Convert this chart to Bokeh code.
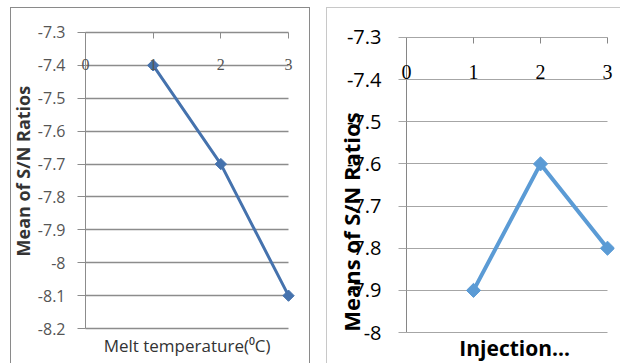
from math import pi
from bokeh.plotting import figure
from bokeh.models import (Range1d, FixedTicker, LinearAxis, LabelSet,
                          ColumnDataSource)
from bokeh.layouts import row
from bokeh.embed import file_html
from bokeh.resources import INLINE

# ---- data ----
levels = [1, 2, 3]
melt_means = [-7.4, -7.7, -8.1]
inj_means = [-7.9, -7.6, -7.8]

x_ticks = [0, 1, 2, 3]
x_tick_labels = ["0", "1", "2", "3"]

left_y_ticks = [-8.2, -8.1, -8.0, -7.9, -7.8, -7.7, -7.6, -7.5, -7.4, -7.3]
left_y_labels = ["-8.2", "-8.1", "-8", "-7.9", "-7.8", "-7.7", "-7.6", "-7.5", "-7.4", "-7.3"]
right_y_ticks = [-8.0, -7.9, -7.8, -7.7, -7.6, -7.5, -7.4, -7.3]
right_y_labels = ["-8", "-7.9", "-7.8", "-7.7", "-7.6", "-7.5", "-7.4", "-7.3"]

left_x_title = "Melt temperature(\u2070C)"
left_y_title = "Mean of S/N Ratios"
right_x_title = "Injection\u2026"
right_y_title = "Means of S/N Ratios"

FONT = "Open Sans"
NBSP = "\u00a0"


def panel(xs, ys, yticks, ylabels, x_title, y_title, cfg):
    styles = {"border-top": "1px solid " + cfg["box"],
              "border-left": "1px solid " + cfg["box"]}
    if cfg["box_right"]:
        styles["border-right"] = "1px solid " + cfg["box"]
    y0, y1 = yticks[0], yticks[-1]
    span = y1 - y0
    p = figure(width=cfg["w"], height=cfg["h"], output_backend="svg",
               toolbar_location=None, x_axis_location="below",
               x_range=Range1d(cfg["xstart"], cfg["xend"]),
               y_range=Range1d(y0 - cfg["pad_b"] * span, y1 + cfg["pad_t"] * span),
               min_border_left=0, min_border_right=cfg["br"],
               min_border_top=cfg["bt"], min_border_bottom=cfg["bb"],
               outline_line_color=None, background_fill_color="white",
               border_fill_color="white", styles=styles, margin=cfg["margin"])
    # value axis standing at x = 0
    ya = p.yaxis[0]
    ya.fixed_location = x_ticks[0]
    ya.ticker = FixedTicker(ticks=yticks)
    ya.bounds = (y0, y1)
    ya.major_label_overrides = dict(zip(yticks, ylabels))
    ya.major_tick_out = 8
    ya.major_tick_in = 0
    ya.minor_tick_line_color = None
    ya.axis_line_color = cfg["axis"]
    ya.major_tick_line_color = cfg["grid"]
    ya.major_label_standoff = cfg["standoff"]
    ya.major_label_text_font = FONT
    ya.major_label_text_font_size = cfg["tick_fs"]
    ya.major_label_text_color = cfg["tick_col"]
    ya.axis_label = NBSP * cfg["pad_lead"] + y_title + NBSP * cfg["pad_trail"]
    ya.axis_label_standoff = cfg["yt_so"]
    ya.axis_label_text_font = FONT
    ya.axis_label_text_font_style = "bold"
    ya.axis_label_text_font_size = cfg["title_fs"]
    ya.axis_label_text_color = cfg["title_col"]
    # bottom axis: title only
    xa = p.xaxis[0]
    xa.ticker = FixedTicker(ticks=[])
    xa.axis_line_color = None
    xa.major_tick_out = 0
    xa.major_tick_in = 0
    xa.minor_tick_line_color = None
    xa.major_label_standoff = 0
    xa.axis_label = NBSP * cfg["xpad"] + x_title
    xa.axis_label_standoff = cfg["xt_so"]
    xa.axis_label_text_font = FONT
    xa.axis_label_text_font_style = cfg["xt_style"]
    xa.axis_label_text_font_size = cfg["xt_fs"]
    xa.axis_label_text_color = cfg["title_col"]
    # grid
    p.xgrid.visible = False
    p.ygrid.ticker = FixedTicker(ticks=yticks)
    p.ygrid.grid_line_color = cfg["grid"]
    p.ygrid.grid_line_width = cfg["grid_w"]
    p.ygrid.cross_bounds = (x_ticks[0], x_ticks[-1])
    # horizontal axis crossing at the top value: tick marks pointing down
    top = LinearAxis(ticker=FixedTicker(ticks=x_ticks), fixed_location=y1,
                     major_tick_in=6, major_tick_out=0, axis_line_color=None,
                     major_tick_line_color=cfg["axis"],
                     minor_tick_line_color=None,
                     major_label_text_color=None)
    p.add_layout(top, "above")
    # its labels, under the axis line
    src = ColumnDataSource(dict(x=x_ticks, y=[y1] * len(x_ticks),
                                text=x_tick_labels))
    p.add_layout(LabelSet(x="x", y="y", text="text", source=src,
                          y_offset=-cfg["xlab_off"], text_align="center",
                          text_baseline="middle", text_font=FONT,
                          text_font_size=cfg["tick_fs"],
                          text_color=cfg["tick_col"]))
    # data
    p.line(xs, ys, line_width=cfg["lw"], color=cfg["color"])
    p.scatter(xs, ys, marker="square", angle=pi / 4, size=cfg["ms"],
              color=cfg["color"])
    return p


# common frame top/bottom for both panels; ranges padded so ticks land right
left_cfg = dict(w=300, h=356, xstart=-74 / 67.67, xend=211 / 67.67, br=15, bt=16, bb=22,
                pad_t=8 / 298, pad_b=12 / 298, margin=(7, 0, 0, 10),
                box="#8a8a8a", box_right=True, axis="#8c8c8c", grid="#8c8c8c",
                grid_w=1.5, standoff=12, tick_fs="16px", tick_col="#555555",
                xlab_off=32, lw=3, color="#4572ad", ms=8,
                yt_so=0, pad_lead=4, pad_trail=0, xt_so=-7, xpad=15,
                title_fs="18px", title_col="#333333", xt_style="normal", xt_fs="17px")
right_cfg = dict(w=294, h=356, xstart=-79 / 67.0, xend=208 / 67.0, br=7, bt=16, bb=22,
                 pad_t=13 / 297, pad_b=8 / 297, margin=(7, 0, 0, 0),
                 box="#c8c8c8", box_right=False, axis="#868686", grid="#a6a6a6",
                 grid_w=1, standoff=17, tick_fs="20px", tick_col="#000000",
                 xlab_off=35, lw=4, color="#5b9bd5", ms=10,
                 yt_so=-22, pad_lead=0, pad_trail=13, xt_so=-7, xpad=16,
                 title_fs="22px", title_col="#000000", xt_style="bold", xt_fs="21px")

p1 = panel(levels, melt_means, left_y_ticks, left_y_labels, left_x_title,
           left_y_title, left_cfg)
p2 = panel(levels, inj_means, right_y_ticks, right_y_labels, right_x_title,
           right_y_title, right_cfg)

layout = row(p1, p2, spacing=16)
open("out.html", "w").write(file_html(layout, INLINE))
